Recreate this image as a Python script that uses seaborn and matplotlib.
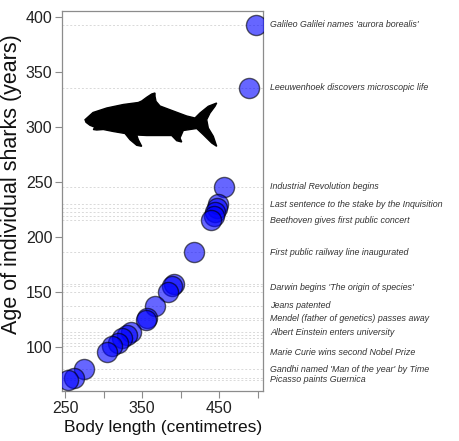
import numpy as np
import pandas as pd
from matplotlib import pyplot as plt
from matplotlib.patches import Polygon
import seaborn as sns

length_cm = [498, 489, 456, 449, 447, 445, 443, 439, 417, 391, 389, 384,
             367, 356, 355, 335, 330, 324, 318, 311, 304, 274, 262, 254]
age_years = [392, 335, 245, 230, 226, 223, 219, 215, 186, 157, 155, 150,
             137, 126, 125, 114, 111, 108, 104, 101, 96, 80, 72, 70]

# historical events placed at the matching age
events = ["Galileo Galilei names 'aurora borealis'",
          "Leeuwenhoek discovers microscopic life",
          "Industrial Revolution begins",
          "Last sentence to the stake by the Inquisition",
          "Beethoven gives first public concert",
          "First public railway line inaugurated",
          "Darwin begins 'The origin of species'",
          "Jeans patented",
          "Mendel (father of genetics) passes away",
          "Albert Einstein enters university",
          "Marie Curie wins second Nobel Prize",
          "Gandhi named 'Man of the year' by Time",
          "Picasso paints Guernica"]
event_age = [392.5, 335.4, 245.7, 229.6, 214.9, 185.9, 154.5, 137.6,
             126.2, 113.2, 95.2, 79.6, 70.7]

df = pd.DataFrame({'length': length_cm, 'age': age_years})

sns.set_style('ticks')
plt.rcParams['font.family'] = ['Liberation Sans', 'DejaVu Sans']

fig = plt.figure(figsize=(4.6, 4.41), dpi=100)
ax = fig.add_axes([0.135, 0.113, 0.437, 0.862])

grey = '#8c8c8c'
for a in df['age']:
    ax.axhline(a, color='#d9d9d9', lw=0.7, ls=(0, (2, 2)), zorder=0)

# shark silhouette, outline traced in figure pixels
shark = [(85, 119.7), (93, 112.5), (106.7, 108), (123.3, 104.5), (138.3, 102.5),
         (141.7, 101), (146.7, 97.3), (151.7, 94), (155, 93), (155, 96.3),
         (156, 101.3), (160, 106), (173.3, 111), (186.7, 116), (195, 118),
         (200, 113), (208.3, 106.3), (216.7, 103), (215, 106.3), (210, 113),
         (206.7, 119.7), (208.3, 128), (213.3, 136.3), (216.7, 146.3),
         (211.7, 143), (203.3, 134.7), (196.7, 128.5), (190, 129.5),
         (183.3, 130.5), (180, 138), (181.7, 142), (176.7, 140.7),
         (171.7, 135.5), (160, 135.5), (146.7, 135.5), (136.7, 135),
         (138.3, 139.7), (141.7, 146.3), (136.7, 145.3), (130, 139.7),
         (125, 133.5), (113.3, 131.5), (103.3, 129.5), (96.7, 130),
         (93.3, 129.5), (95, 127.3), (90, 125.3), (86, 122.3)]
shark = [(x / 460, 1 - y / 441) for x, y in shark]
ax.add_patch(Polygon(shark, closed=True, color='black',
                     transform=fig.transFigure, zorder=1))

sns.scatterplot(data=df, x='length', y='age', s=210, color='blue',
                alpha=0.6, edgecolor='black', linewidth=1, zorder=3, ax=ax)

ax.set_xlim(246, 507)
ax.set_ylim(60, 405)
ax.set_xticks([250, 300, 350, 400, 450, 500])
ax.set_xticklabels(['250', '', '350', '', '450', ''])
ax.set_yticks([100, 150, 200, 250, 300, 350, 400])
ax.tick_params(colors=grey, labelcolor='#222222', labelsize=11.5,
               length=5, width=0.8, pad=2)
for sp in ax.spines.values():
    sp.set_color(grey)
    sp.set_linewidth(0.9)
    sp.set_visible(True)

ax.set_xlabel('Body length (centimetres)', fontsize=12.5, color='#111111',
              labelpad=3)
ax.set_ylabel('Age of individual sharks (years)', fontsize=15.5,
              color='#111111')
ax.yaxis.set_label_coords(-0.2, 0.545)

tr = ax.get_yaxis_transform()
for lab, a in zip(events, event_age):
    ax.text(1.035, a, lab, transform=tr, fontsize=6.4, style='italic',
            color='#333333', va='center', ha='left', clip_on=False)

fig.savefig('out.png', dpi=100)
